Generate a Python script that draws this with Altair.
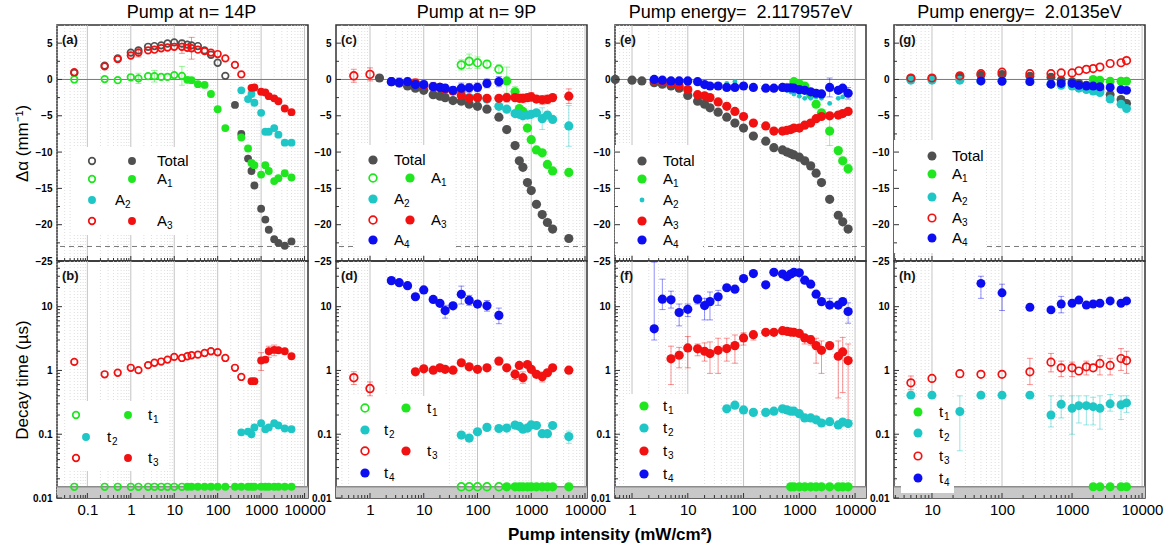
import math
import altair as alt
import pandas as pd

FONT = "Liberation Sans"
GRAY, GREEN, CYAN, RED, BLUE = "#505050", "#1fe61f", "#1fc6c6", "#f21111", "#0d0df2"
W, H_TOP, H_BOT = 251, 236, 237
FLOOR = 0.015  # resolution limit of the decay-time fits

# ---------------- (a)/(b): pump at n = 14P ----------------
X_14P = [0.05, 0.25, 0.5, 1, 1.5, 2.5, 3.5, 5, 7, 10, 15, 20, 25, 35, 50, 70, 100,
         150, 250, 350, 500, 600, 700, 1000, 1250, 1500, 2000, 2500, 3500, 5000]
TOTAL_14P = [0.9, 1.9, 2.9, 3.7, 4.0, 4.5, 4.6, 4.7, 4.95, 5.1, 4.95, 4.8, 4.7, 4.6, 4.0,
             3.4, 2.3, 0.5, -3.5, -7.5, -10.9, -12.6, -14.6, -17.8, -19.3, -20.7, -22.0,
             -22.5, -22.9, -22.3]
A1_14P = [0.0, 0.05, -0.1, 0.3, 0.15, 0.45, 0.45, 0.35, 0.35, 0.6, 0.5, -0.05, -0.1,
          -0.65, -0.75, -2.0, -4.1, -6.7, None, -8.0, -9.5, -11.5, -11.8, -13.1, -11.8,
          -12.6, -14.0, -13.6, -12.9, -13.5]
A2_14P = [None, None, None, None, None, None, None, None, None, None, None, None, None,
          None, None, None, None, None, None, -1.5, -2.7, -2.0, -3.2, -4.6, -7.2, -7.2,
          -6.7, -7.6, -8.7, -8.7]
A3_14P = [1.0, 1.8, 2.8, 3.3, 3.7, 4.0, 4.1, 4.3, 4.4, 4.5, 4.5, 4.35, 4.3, 4.1, 3.9,
          3.7, 3.5, 2.9, 2.0, 0.7, None, -1.15, -1.1, -1.7, -1.8, -2.3, -2.6, -3.0,
          -4.0, -4.5]
T1_14P = [0.015, 0.015, 0.015, 0.015, 0.015, 0.015, 0.015, 0.015, 0.015, 0.015, 0.015,
          0.015, 0.015, 0.015, 0.015, 0.015, 0.015, 0.015, 0.015, 0.015, 0.015, 0.015,
          0.015, 0.015, 0.015, 0.015, 0.015, 0.015, 0.015, 0.015]
T2_14P = [None, None, None, None, None, None, None, None, None, None, None, None, None,
          None, None, None, None, None, None, 0.107, 0.11, 0.1, 0.128, 0.149, 0.12,
          0.128, 0.149, 0.137, 0.123, 0.12]
T3_14P = [1.36, 0.87, 0.92, 1.1, 1.01, 1.21, 1.32, 1.38, 1.48, 1.63, 1.57, 1.67, 1.73,
          1.77, 1.88, 2.0, 1.93, 1.57, 1.1, 0.79, None, 0.68, 0.68, 1.43, 1.48, 2.0,
          2.1, 2.07, 2.0, 1.67]
# error bars: (x, half width) for amplitudes, (x, low, high) for decay times
A1_14P_ERR = ([1.5, 3.5, 15], [0.7, 0.8, 1.3])
A3_14P_ERR = ([1.5, 15, 25], [0.6, 0.9, 1.5])
T3_14P_ERR = ([1000, 1500, 2000], [1.0, 1.6, 1.7], [1.9, 2.4, 2.5])

# ---------------- (c)/(d): pump at n = 9P ----------------
X_9P = [0.5, 1, 1.5, 2.5, 3.5, 5, 7, 10, 15, 20, 25, 35, 50, 70, 100, 150, 250, 350,
        500, 600, 700, 850, 1000, 1250, 1600, 2000, 2500, 5000]
TOTAL_9P = [None, None, 0.2, -0.3, -0.5, -0.9, -1.2, -1.5, -2.1, -2.3, -2.5, -2.9, -3.0,
            -3.4, -3.7, -4.1, -5.2, -6.9, -9.1, -11.2, -12.1, -14.2, -15.3, -17.2,
            -18.6, -19.7, -20.6, -21.9]
A1_9P = [None, None, None, None, None, None, None, None, None, None, None, None, 2.0,
         2.5, 2.3, 2.1, 1.4, -0.2, -1.7, -4.0, -4.4, -6.7, -8.3, -9.7, -10.1, -11.7,
         -12.6, -12.8]
A2_9P = [None, None, None, None, None, None, None, None, None, None, None, None, -1.6,
         -2.5, -2.5, -2.7, -3.7, -4.1, -4.7, -4.8, -5.0, -4.9, -4.8, -4.6, -5.4, -4.9,
         -5.5, -6.4]
A3_9P = [0.5, 0.7, None, None, None, None, -0.5, -0.8, -1.0, -1.1, -1.3, -1.6, -2.2,
         -2.6, -2.5, -2.6, -2.6, -2.5, -2.5, -2.6, -2.6, -2.5, -2.4, -2.7, -2.8, -2.75,
         -2.5, -2.3]
A4_9P = [None, None, None, -0.3, -0.4, -0.3, -0.7, -0.7, -1.0, -1.1, -1.2, -1.5, -1.2,
         -1.15, -1.1, -0.55, -0.3, None, None, None, None, None, None, None, None, None,
         None, None]
T1_9P = [None, None, None, None, None, None, None, None, None, None, None, None, 0.015,
         0.015, 0.015, 0.015, 0.015, 0.015, 0.015, 0.015, 0.015, 0.015, 0.015, 0.015,
         0.015, 0.015, 0.015, 0.015]
T2_9P = [None, None, None, None, None, None, None, None, None, None, None, None, 0.097,
         0.087, 0.109, 0.128, 0.123, 0.125, 0.139, 0.133, 0.12, 0.125, 0.14, 0.137,
         0.102, 0.102, 0.137, 0.092]
T3_9P = [0.77, 0.52, None, None, None, None, 0.95, 1.06, 1.01, 1.1, 1.04, 1.01, 1.32,
         1.14, 1.04, 1.1, 1.4, 1.1, 0.87, 1.2, 0.77, 1.24, 1.04, 0.87, 0.8, 0.92, 1.1,
         1.01]
T4_9P = [None, None, None, 25.6, 23.8, 21.3, 14.3, 18.3, 13.0, 11.3, 8.7, 10.3, 15.6,
         12.5, 11.0, 10.3, 7.3, None, None, None, None, None, None, None, None, None,
         None, None]
A1_9P_ERR = ([50, 70, 100, 150, 250, 350, 500], [0.7, 1.0, 0.8, 0.5, 0.6, 1.9, 0.7])
A2_9P_ERR = ([50, 1600, 5000], [0.6, 1.5, 2.8])
A3_9P_ERR = ([0.5, 1, 7, 25, 50, 350, 700, 1000, 1600, 2000, 5000],
             [0.9, 0.9, 0.6, 0.6, 0.7, 0.6, 0.6, 0.6, 0.6, 0.6, 1.0])
A4_9P_ERR = ([2.5, 3.5, 5, 7, 10, 15, 20, 25, 35, 50, 70, 100, 150, 250],
             [0.5, 0.6, 0.5, 0.5, 0.5, 0.6, 0.5, 0.5, 0.5, 0.7, 0.6, 0.6, 0.6, 0.7])
T2_9P_ERR = ([5000], [0.072], [0.112])
T3_9P_ERR = ([0.5, 1, 500, 700, 1600], [0.6, 0.4, 0.72, 0.63, 0.66],
             [0.95, 0.66, 1.02, 0.95, 0.95])
T4_9P_ERR = ([2.5, 25, 50, 70, 150, 250], [23, 6.6, 11, 10.5, 8.5, 5.4],
             [28.5, 10.5, 21, 15, 12.5, 9.5])

# ---------------- (e)/(f): pump energy 2.117957 eV ----------------
X_E1 = [0.5, 1, 1.5, 2.5, 3.5, 5, 7, 10, 15, 20, 25, 35, 50, 70, 100, 150, 250, 350,
        500, 600, 700, 800, 1000, 1250, 1600, 2000, 2500, 3500, 5000, 6000, 7500]
TOTAL_E1 = [0.0, -0.1, -0.2, -0.45, -0.65, -0.9, -1.2, -2.2, -3.0, -3.4, -3.9, -4.5,
            -5.2, -6.0, -6.7, -7.8, -8.5, -9.4, -9.7, -10.0, -10.2, -10.4, -10.7, -11.2,
            -11.9, -12.9, -14.2, -16.5, -18.7, -19.6, -20.6]
A1_E1 = [None, None, None, None, None, None, None, None, None, None, None, None, None,
         None, None, None, None, None, None, None, None, -0.3, -0.6, -0.9, -2.1, -3.4,
         -4.6, -7.1, -9.8, -11.2, -12.3]
A2_E1 = [None, None, None, None, None, None, None, None, None, None, None, None, -0.55,
         -0.3, -0.9, -1.1, -1.2, -1.2, -1.4, -1.5, -1.7, -2.0, -2.3, -2.6, -2.6, -2.4,
         -2.6, -3.3, -2.6, -2.4, -2.0]
A3_E1 = [None, None, None, -0.1, -0.3, -0.55, -0.9, -1.4, -2.1, -2.25, -2.5, -3.1, -3.7,
         -4.4, -5.1, -6.0, -6.4, -7.1, -7.1, -7.0, -6.9, -6.7, -6.7, -6.3, -6.0, -5.4,
         -5.1, -5.0, -4.9, -4.7, -4.4]
A4_E1 = [None, None, None, 0.0, -0.1, -0.2, -0.2, -0.2, -0.3, -0.7, -0.9, -0.9, -1.1,
         -1.1, -0.9, -1.1, -1.2, -1.2, -1.1, -1.15, -1.15, -1.2, -1.4, -1.5, -1.7, -1.9,
         -2.0, -1.1, -1.5, -1.2, -1.9]
T1_E1 = [None, None, None, None, None, None, None, None, None, None, None, None, None,
         None, None, None, None, None, None, None, 0.015, 0.015, 0.015, 0.015, 0.015,
         0.015, 0.015, 0.015, 0.015, 0.015, 0.015]
T2_E1 = [None, None, None, None, None, None, None, None, None, None, None, None, 0.25,
         0.285, 0.24, 0.22, 0.22, 0.23, 0.25, 0.24, 0.23, 0.23, 0.21, 0.18, 0.18, 0.168,
         0.15, 0.157, 0.14, 0.155, 0.147]
T3_E1 = [None, None, None, None, None, 1.52, 1.73, 2.25, 2.18, 2.0, 1.84, 2.07, 2.2, 2.45,
         3.23, 3.64, 3.96, 3.96, 4.2, 4.1, 4.0, 3.96, 3.8, 3.23, 3.04, 2.45, 2.07, 2.45,
         1.67, 1.95, 1.43]
T4_E1 = [None, None, None, 4.5, 13.1, 12.8, 8.1, 9.1, 13.1, 10.4, 12.0, 14.3, 19.8, 18.8,
         27.6, 33.0, 22.0, 34.6, 32.5, 29.5, 32.5, 34.6, 34.0, 26.0, 22.5, 15.7, 12.0,
         10.6, 10.6, 12.0, 8.4]
A1_E1_ERR = ([3500, 7500], [2.0, 0.6])
A4_E1_ERR = ([3500, 7500], [1.3, 0.8])
T3_E1_ERR = ([5, 7, 10, 15, 20, 25, 35, 50, 70, 100, 150, 1250, 1600, 2000, 2500, 5000,
              6000, 7500],
             [0.6, 1.1, 1.1, 1.7, 1.4, 0.9, 0.9, 1.4, 1.3, 2.5, 3.0, 2.6, 2.5, 1.3, 0.9,
              0.37, 0.45, 0.15],
             [2.4, 2.3, 3.4, 2.6, 2.7, 2.8, 3.2, 3.2, 3.6, 3.9, 4.1, 3.6, 3.5, 3.2, 2.9,
              2.9, 3.3, 2.6])
T4_E1_ERR = ([2.5, 3.5, 5, 7, 10, 15, 20, 25, 35, 3500, 7500],
             [3.0, 9.0, 9.5, 5.0, 7.0, 11.0, 6.2, 6.2, 10.5, 9.6, 5.5],
             [50, 27, 17.5, 11, 11, 15, 13.5, 17, 18, 13.5, 11.5])

# ---------------- (g)/(h): pump energy 2.0135 eV ----------------
X_E2 = [5, 10, 25, 50, 100, 250, 500, 700, 1000, 1250, 1600, 2000, 2500, 3500, 5000, 6000]
TOTAL_E2 = [0.15, 0.15, 0.35, 0.6, 0.7, 0.45, 0.3, -0.1, -0.3, -0.55, -0.8, -1.1, -1.4,
            -2.1, -2.75, -3.3]
A1_E2 = [None, None, None, None, None, None, None, None, None, None, None, 0.0, -0.1,
         -0.25, -0.25, -0.25]
A2_E2 = [-0.1, -0.1, -0.1, -0.2, -0.2, -0.3, -0.65, -0.8, -0.9, -1.2, -1.4, -1.6, -1.8,
         -2.7, -3.4, -4.0]
A3_E2 = [0.2, 0.2, 0.5, 0.8, 1.0, 0.8, 0.8, 0.9, 0.9, 1.2, 1.4, 1.5, 1.7, 2.2, 2.3, 2.6]
A4_E2 = [None, None, None, -0.2, -0.25, -0.3, -0.65, -0.55, -0.55, -0.8, -0.9, -0.9,
         -1.0, -1.1, -1.4, -1.5]
T1_E2 = [None, None, None, None, None, None, None, None, None, None, None, 0.015, 0.015,
         0.015, 0.015, 0.015]
T2_E2 = [0.41, 0.41, 0.227, 0.41, 0.41, 0.41, 0.2, 0.295, 0.255, 0.28, 0.28, 0.27, 0.255,
         0.3, 0.29, 0.31]
T3_E2 = [0.64, 0.75, 0.89, 0.87, 0.87, 0.95, 1.35, 1.1, 1.1, 0.98, 1.14, 1.1, 1.29, 1.2,
         1.54, 1.43]
T4_E2 = [None, None, None, 23.2, 16.5, 9.8, 8.9, 11.0, 11.3, 12.7, 10.6, 11.0, 11.3, 12.3,
         11.3, 12.3]
T2_E2_ERR = ([25, 500, 700, 1000, 1250, 1600, 2000, 2500, 3500, 5000, 6000],
             [0.055, 0.13, 0.18, 0.1, 0.15, 0.14, 0.14, 0.12, 0.23, 0.17, 0.22],
             [0.4, 0.4, 0.4, 0.4, 0.4, 0.4, 0.38, 0.4, 0.42, 0.4, 0.4])
T3_E2_ERR = ([5, 250, 500, 700, 1000, 1600, 2500, 3500, 5000, 6000],
             [0.5, 0.6, 0.95, 0.8, 0.8, 0.85, 0.85, 0.85, 1.0, 0.9],
             [0.82, 1.55, 1.85, 1.4, 1.35, 1.4, 1.7, 1.55, 2.2, 2.0])
T4_E2_ERR = ([50, 100, 700], [13.5, 8.7, 8.0], [30, 22.5, 14.5])

ONE = pd.DataFrame({"k": [0]})


def log_ticks(lo, hi):
    major, minor = [], []
    for d in range(math.floor(math.log10(lo)), math.ceil(math.log10(hi)) + 1):
        for m in range(1, 10):
            v = m * 10.0 ** d
            if lo <= v <= hi:
                (major if m == 1 else minor).append(v)
    return major, minor


def styled(chart, kind, color, size):
    if kind == "open":
        return chart.mark_point(shape="circle", filled=False, size=size * 0.7,
                                strokeWidth=1.7, color=color, opacity=1)
    return chart.mark_circle(size=size * (0.28 if kind == "small" else 1.0),
                             color=color, opacity=1)


def build_panel(xs, xdom, spec, top, size, y_title, extra=None):
    h = H_TOP if top else H_BOT
    xscale = alt.Scale(type="log", domain=xdom, nice=False)
    xmaj, xmin = log_ticks(*xdom)
    if top:
        yscale = alt.Scale(domain=[-25, 7.5], nice=False, zero=False)
        ymaj = [-25, -20, -15, -10, -5, 0, 5]
        ymin = [-22.5, -17.5, -12.5, -7.5, -2.5, 2.5]
        yfmt = "d"
        xaxis = alt.Axis(labels=False, ticks=False, domain=False, grid=False, title=None)
    else:
        yscale = alt.Scale(type="log", domain=[0.01, 52], nice=False)
        ymaj = [0.01, 0.1, 1, 10]
        ymin = log_ticks(0.01, 52)[1]
        yfmt = "~g"
        xaxis = alt.Axis(values=xmaj, format="~g", labelFont=FONT, labelFontSize=15,
                         labelColor="black", labelPadding=4, labelOverlap=False,
                         labelFlush=False, ticks=False, domain=False, grid=False,
                         title=None)
    yaxis = alt.Axis(values=ymaj, format=yfmt, labelFont=FONT, labelFontSize=10,
                     labelFontWeight="bold", labelColor="black", labelPadding=5,
                     labelOverlap=False, labelFlush=False, ticks=False, domain=False,
                     grid=False, title=y_title, titleFont=FONT, titleFontSize=17,
                     titleFontWeight="normal", titleColor="black", titleAngle=-90,
                     titleX=-35, titleY=h / 2, titleAlign="center",
                     titleBaseline="middle")

    def X(f="x"):
        return alt.X(f"{f}:Q", scale=xscale, axis=xaxis)

    def Y(f="y"):
        return alt.Y(f"{f}:Q", scale=yscale, axis=yaxis)

    layers = [
        alt.Chart(pd.DataFrame({"x": xmin})).mark_rule(
            color="#d6d6d6", strokeWidth=0.8, strokeDash=[1, 2]).encode(x=X()),
        alt.Chart(pd.DataFrame({"x": xmaj})).mark_rule(
            color="#c4c4c4", strokeWidth=1).encode(x=X()),
    ]
    if top:
        layers.append(alt.Chart(pd.DataFrame({"y": [0]})).mark_rule(
            color="#7a7a7a", strokeWidth=1).encode(y=Y()))
        layers.append(alt.Chart(pd.DataFrame({"y": [-23]})).mark_rule(
            color="#7a7a7a", strokeWidth=1, strokeDash=[5, 4]).encode(y=Y()))
    else:
        layers.append(alt.Chart(pd.DataFrame({"y": [0.01], "y2": [FLOOR]})).mark_rect(
            color="#c8c8c8").encode(y=Y(), y2="y2:Q", x=alt.value(0), x2=alt.value(W)))
        layers.append(alt.Chart(pd.DataFrame({"y": [FLOOR]})).mark_rule(
            color="#8c8c8c", strokeWidth=1.5).encode(y=Y()))

    # white legend box
    bx0, by0, bx1, by1 = spec["box"]
    layers.append(alt.Chart(ONE).mark_rect(color="white").encode(
        x=alt.value(bx0), x2=alt.value(bx1), y=alt.value(by0), y2=alt.value(by1)))

    # error bars
    for color, ys, err in spec["errs"]:
        if top:
            centre = dict(zip(xs, ys))
            rows = [{"x": x, "lo": centre[x] - e, "hi": centre[x] + e}
                    for x, e in zip(*err)]
        else:
            rows = [{"x": x, "lo": lo, "hi": hi} for x, lo, hi in zip(*err)]
        edf = pd.DataFrame(rows)
        faint = dict(color=color, opacity=0.45)
        layers.append(alt.Chart(edf).mark_rule(strokeWidth=1, **faint).encode(
            x=X(), y=Y("lo"), y2="hi:Q"))
        for f in ("lo", "hi"):
            layers.append(alt.Chart(edf).mark_tick(
                orient="horizontal", size=6, thickness=1, **faint).encode(x=X(), y=Y(f)))

    # data points: hollow up to open_max, filled beyond
    for color, ys, open_max, kind in spec["series"]:
        rows = [{"x": x, "y": y} for x, y in zip(xs, ys) if y is not None]
        hollow = [r for r in rows if open_max is not None and r["x"] <= open_max]
        solid = [r for r in rows if not (open_max is not None and r["x"] <= open_max)]
        if hollow:
            layers.append(styled(alt.Chart(pd.DataFrame(hollow)), "open", color, size)
                          .encode(x=X(), y=Y()))
        if solid:
            layers.append(styled(alt.Chart(pd.DataFrame(solid)), kind, color, size)
                          .encode(x=X(), y=Y()))

    # inward ticks
    tick = dict(color="#333333", strokeWidth=1)
    layers.append(alt.Chart(pd.DataFrame({"x": xmaj})).mark_rule(**tick).encode(
        x=X(), y=alt.value(h), y2=alt.value(h - 5)))
    layers.append(alt.Chart(pd.DataFrame({"x": xmin})).mark_rule(**tick).encode(
        x=X(), y=alt.value(h), y2=alt.value(h - 3)))
    layers.append(alt.Chart(pd.DataFrame({"y": ymaj})).mark_rule(**tick).encode(
        y=Y(), x=alt.value(0), x2=alt.value(5)))
    layers.append(alt.Chart(pd.DataFrame({"y": ymin})).mark_rule(**tick).encode(
        y=Y(), x=alt.value(0), x2=alt.value(3)))

    # legend entries
    for ty, syms, tx, main, sub in spec["legend"]:
        for sx, kind, color in syms:
            layers.append(styled(alt.Chart(ONE), kind, color, size).encode(
                x=alt.value(sx), y=alt.value(ty)))
        layers.append(alt.Chart(ONE).mark_text(
            text=main, font=FONT, fontSize=15, align="left", baseline="middle",
            color="black").encode(x=alt.value(tx), y=alt.value(ty)))
        if sub:
            layers.append(alt.Chart(ONE).mark_text(
                text=sub, font=FONT, fontSize=10, align="left", baseline="middle",
                color="black").encode(x=alt.value(tx + (10 if main == "A" else 5)),
                                      y=alt.value(ty + 5)))

    layers.append(alt.Chart(ONE).mark_text(
        text=spec["label"], font=FONT, fontSize=13, fontWeight="bold", align="left",
        baseline="middle", color="#111111").encode(x=alt.value(5), y=alt.value(15)))

    if extra:
        layers.append(alt.Chart(ONE).mark_text(
            text=extra, font=FONT, fontSize=17, fontWeight="bold", align="center",
            baseline="middle", color="black").encode(x=alt.value(-5), y=alt.value(274)))

    return alt.layer(*layers).properties(width=W, height=h)


COLUMNS = [
    dict(title="Pump at n= 14P", xs=X_14P, xdom=[0.02, 12000], size=62, dx=9,
         top=dict(label="(a)", box=(15, 122, 133, 210),
                  series=[(GRAY, TOTAL_14P, 150, "fill"), (GREEN, A1_14P, 15, "fill"),
                          (CYAN, A2_14P, None, "fill"), (RED, A3_14P, 350, "fill")],
                  errs=[(GREEN, A1_14P, A1_14P_ERR), (RED, A3_14P, A3_14P_ERR)],
                  legend=[(136, [(35, "open", GRAY), (75, "fill", GRAY)], 100, "Total", ""),
                          (154, [(35, "open", GREEN), (75, "fill", GREEN)], 100, "A", "1"),
                          (175, [(35, "fill", CYAN)], 58, "A", "2"),
                          (196, [(35, "open", RED), (75, "fill", RED)], 100, "A", "3")]),
         bot=dict(label="(b)", box=(10, 140, 112, 210),
                  series=[(GREEN, T1_14P, 15, "fill"), (CYAN, T2_14P, None, "fill"),
                          (RED, T3_14P, 350, "fill")],
                  errs=[(RED, T3_14P, T3_14P_ERR)],
                  legend=[(154, [(19, "open", GREEN), (71, "fill", GREEN)], 91, "t", "1"),
                          (176, [(29, "fill", CYAN)], 50, "t", "2"),
                          (197, [(19, "open", RED), (71, "fill", RED)], 91, "t", "3")])),
    dict(title="Pump at n= 9P", xs=X_9P, xdom=[0.233, 10900], size=85, dx=15,
         top=dict(label="(c)", box=(20, 120, 118, 230),
                  series=[(GRAY, TOTAL_9P, None, "fill"), (GREEN, A1_9P, 250, "fill"),
                          (CYAN, A2_9P, None, "fill"), (RED, A3_9P, 1, "fill"),
                          (BLUE, A4_9P, None, "fill")],
                  errs=[(GREEN, A1_9P, A1_9P_ERR), (CYAN, A2_9P, A2_9P_ERR),
                        (RED, A3_9P, A3_9P_ERR), (BLUE, A4_9P, A4_9P_ERR)],
                  legend=[(135, [(37, "fill", GRAY)], 58, "Total", ""),
                          (153, [(37, "open", GREEN), (74, "fill", GREEN)], 95, "A", "1"),
                          (174, [(37, "fill", CYAN)], 58, "A", "2"),
                          (195, [(37, "open", RED), (74, "fill", RED)], 95, "A", "3"),
                          (215, [(37, "fill", BLUE)], 58, "A", "4")]),
         bot=dict(label="(d)", box=(15, 135, 112, 225),
                  series=[(GREEN, T1_9P, 250, "fill"), (CYAN, T2_9P, None, "fill"),
                          (RED, T3_9P, 1, "fill"), (BLUE, T4_9P, None, "fill")],
                  errs=[(CYAN, T2_9P, T2_9P_ERR), (RED, T3_9P, T3_9P_ERR),
                        (BLUE, T4_9P, T4_9P_ERR)],
                  legend=[(147, [(29, "open", GREEN), (70, "fill", GREEN)], 91, "t", "1"),
                          (169, [(29, "fill", CYAN)], 48, "t", "2"),
                          (190, [(29, "open", RED), (70, "fill", RED)], 91, "t", "3"),
                          (212, [(29, "fill", BLUE)], 48, "t", "4")])),
    dict(title="Pump energy=\u00a0 2.117957eV", xs=X_E1, xdom=[0.495, 15700], size=85,
         dx=0,
         top=dict(label="(e)", box=(0, 120, 88, 230),
                  series=[(GRAY, TOTAL_E1, None, "fill"), (GREEN, A1_E1, None, "fill"),
                          (CYAN, A2_E1, None, "small"), (RED, A3_E1, None, "fill"),
                          (BLUE, A4_E1, None, "fill")],
                  errs=[(GREEN, A1_E1, A1_E1_ERR), (BLUE, A4_E1, A4_E1_ERR)],
                  legend=[(136, [(27, "fill", GRAY)], 48, "Total", ""),
                          (154, [(27, "fill", GREEN)], 48, "A", "1"),
                          (175, [(27, "small", CYAN)], 48, "A", "2"),
                          (196, [(27, "fill", RED)], 48, "A", "3"),
                          (215, [(27, "fill", BLUE)], 48, "A", "4")]),
         bot=dict(label="(f)", box=(10, 133, 80, 225),
                  series=[(GREEN, T1_E1, None, "fill"), (CYAN, T2_E1, None, "fill"),
                          (RED, T3_E1, None, "fill"), (BLUE, T4_E1, None, "fill")],
                  errs=[(RED, T3_E1, T3_E1_ERR), (BLUE, T4_E1, T4_E1_ERR)],
                  legend=[(145, [(29, "fill", GREEN)], 48, "t", "1"),
                          (167, [(29, "fill", CYAN)], 48, "t", "2"),
                          (190, [(29, "fill", RED)], 48, "t", "3"),
                          (213, [(29, "fill", BLUE)], 48, "t", "4")])),
    dict(title="Pump energy=\u00a0 2.0135eV", xs=X_E2, xdom=[2.87, 11000], size=80, dx=0,
         top=dict(label="(g)", box=(0, 115, 92, 228),
                  series=[(GRAY, TOTAL_E2, None, "fill"), (GREEN, A1_E2, None, "fill"),
                          (CYAN, A2_E2, None, "fill"), (RED, A3_E2, 1e9, "fill"),
                          (BLUE, A4_E2, None, "fill")],
                  errs=[],
                  legend=[(131, [(38, "fill", GRAY)], 58, "Total", ""),
                          (149, [(38, "fill", GREEN)], 58, "A", "1"),
                          (172, [(38, "fill", CYAN)], 58, "A", "2"),
                          (193, [(38, "open", RED)], 58, "A", "3"),
                          (213, [(38, "fill", BLUE)], 58, "A", "4")]),
         bot=dict(label="(h)", box=(7, 138, 60, 232),
                  series=[(GREEN, T1_E2, None, "fill"), (CYAN, T2_E2, None, "fill"),
                          (RED, T3_E2, 1e9, "fill"), (BLUE, T4_E2, None, "fill")],
                  errs=[(CYAN, T2_E2, T2_E2_ERR), (RED, T3_E2, T3_E2_ERR),
                        (BLUE, T4_E2, T4_E2_ERR)],
                  legend=[(151, [(24, "fill", GREEN)], 45, "t", "1"),
                          (172, [(24, "fill", CYAN)], 45, "t", "2"),
                          (195, [(24, "open", RED)], 45, "t", "3"),
                          (217, [(24, "fill", BLUE)], 45, "t", "4")])),
]

tops, bottoms = [], []
for i, col in enumerate(COLUMNS):
    top = build_panel(col["xs"], col["xdom"], col["top"], True, col["size"],
                      "\u0394\u03b1 (mm\u207b\u00b9)" if i == 0 else None)
    top = top.properties(title=alt.TitleParams(
        col["title"], font=FONT, fontSize=18, fontWeight="normal", color="black",
        anchor="middle", frame="group", offset=3, dx=col["dx"]))
    bot = build_panel(col["xs"], col["xdom"], col["bot"], False, col["size"],
                      "Decay time (\u00b5s)" if i == 0 else None,
                      extra="Pump intensity (mW/cm\u00b2)" if i == 2 else None)
    tops.append(top)
    bottoms.append(bot)

chart = alt.concat(*tops, *bottoms, columns=4, spacing={"row": 0, "column": 28},
                   bounds="flush").properties(
    padding={"left": 12, "top": 2, "right": 5, "bottom": 5}
).configure_view(stroke="#333333", strokeWidth=1.5)

chart.save("out.html", embed_options={"renderer": "svg", "actions": False})
